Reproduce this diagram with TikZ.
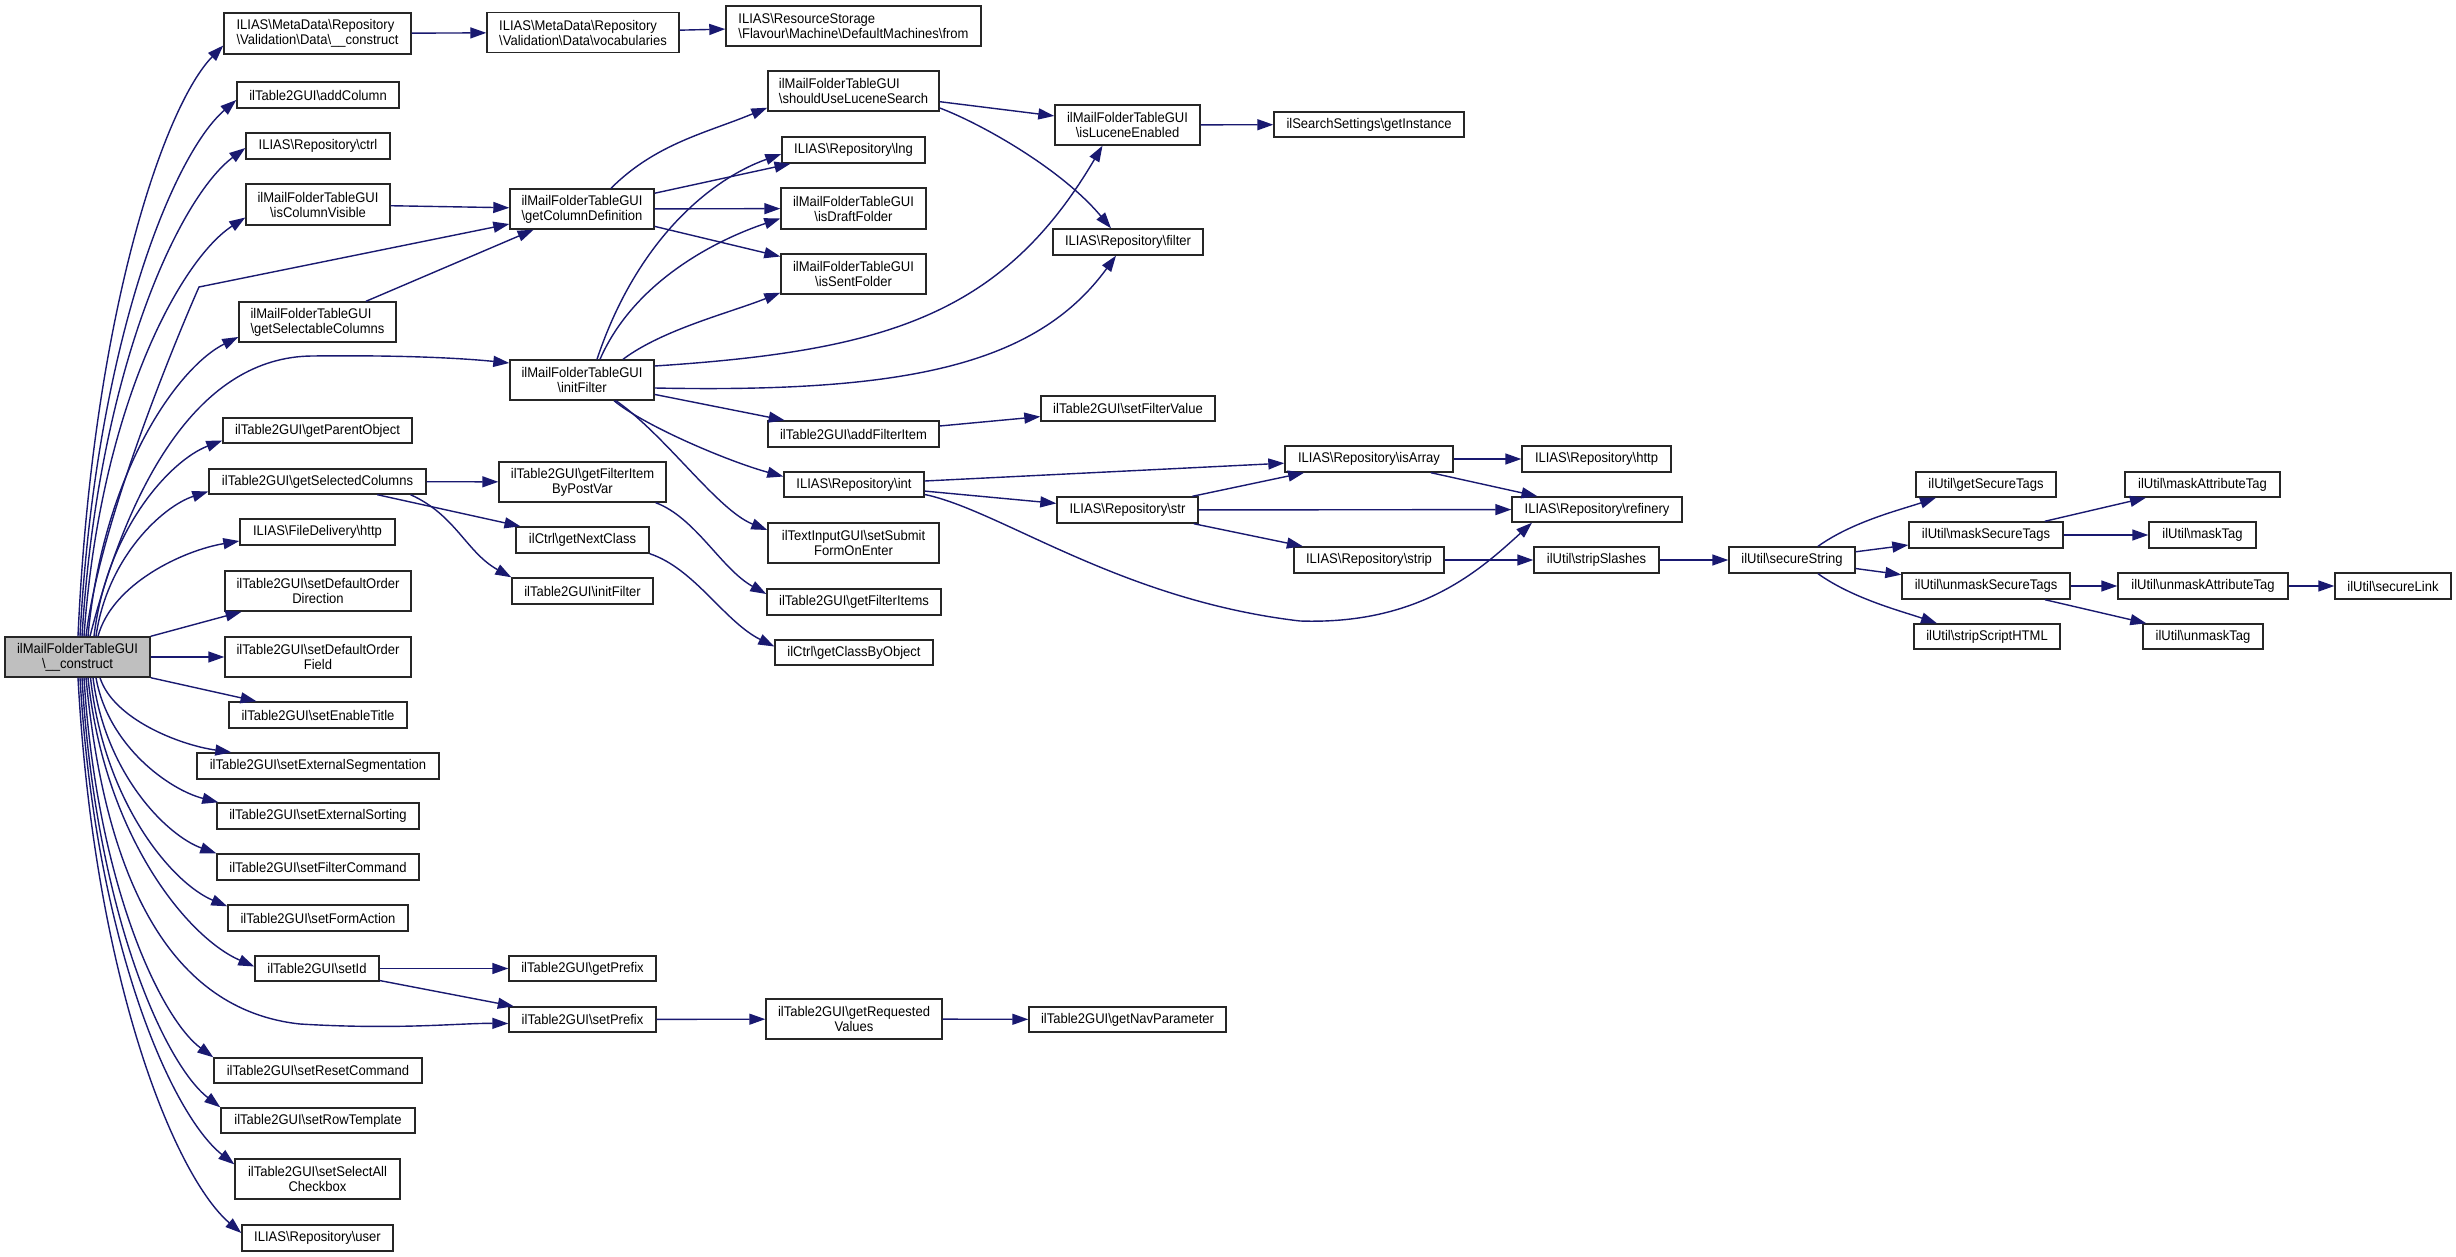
\documentclass[tikz,border=0pt]{standalone}
\usepackage{fontspec}
\setmainfont{Liberation Sans}[FakeStretch=0.93]
\usetikzlibrary{arrows.meta,calc}
\newcommand{\bksl}{\textbackslash}
\definecolor{edgec}{HTML}{191970}
\definecolor{rootc}{HTML}{BFBFBF}
\begin{document}
\begin{tikzpicture}[x=1pt,y=-1pt,
  box/.style={draw=black!85, line width=1.4pt, fill=white, inner sep=1pt, align=center, font=\fontsize{14}{15}\selectfont},
  edge/.style={draw=edgec, line width=1.4pt, -{Triangle[length=16pt,width=11pt]}},
  fan/.style={to path={let \p1=(\tikztostart), \p2=(\tikztotarget) in
     .. controls ({\x1+0.1*(\x2-\x1)},{\y1+0.55*(\y2-\y1)}) and ({\x1+0.6*(\x2-\x1)},{\y2+0.1*(\y1-\y2)}) .. (\tikztotarget) \tikztonodes}}
]
\useasboundingbox (0,0) rectangle (2456,1257);
\fill[white] (0,0) rectangle (2456,1257);

% root
\node[box,minimum width=145pt,minimum height=40pt,fill=rootc] (root) at (77.5,657) {ilMailFolderTableGUI\\\bksl\_\_construct};

% column 2
\node[box,minimum width=187pt,minimum height=41pt,align=left] (mdc) at (317.5,33.5) {ILIAS\bksl MetaData\bksl Repository\\\bksl Validation\bksl Data\bksl\_\_construct};
\node[box,minimum width=162pt,minimum height=26pt] (addc) at (318,95) {ilTable2GUI\bksl addColumn};
\node[box,minimum width=144pt,minimum height=26pt] (ctrl) at (318,146) {ILIAS\bksl Repository\bksl ctrl};
\node[box,minimum width=144pt,minimum height=41pt] (icv) at (318,204.5) {ilMailFolderTableGUI\\\bksl isColumnVisible};
\node[box,minimum width=157pt,minimum height=40pt,align=left] (gsc) at (317.5,322) {ilMailFolderTableGUI\\\bksl getSelectableColumns};
\node[box,minimum width=189pt,minimum height=25pt] (gpo) at (317.5,430.5) {ilTable2GUI\bksl getParentObject};
\node[box,minimum width=217pt,minimum height=25pt] (gselc) at (317.5,481.5) {ilTable2GUI\bksl getSelectedColumns};
\node[box,minimum width=155pt,minimum height=26pt] (fdh) at (317.5,532) {ILIAS\bksl FileDelivery\bksl http};
\node[box,minimum width=186pt,minimum height=40pt] (sdod) at (318,591) {ilTable2GUI\bksl setDefaultOrder\\Direction};
\node[box,minimum width=186pt,minimum height=40pt] (sdof) at (318,657) {ilTable2GUI\bksl setDefaultOrder\\Field};
\node[box,minimum width=178pt,minimum height=26pt] (set) at (318,715) {ilTable2GUI\bksl setEnableTitle};
\node[box,minimum width=242pt,minimum height=26pt] (sese) at (318,766) {ilTable2GUI\bksl setExternalSegmentation};
\node[box,minimum width=202pt,minimum height=26pt] (seso) at (318,816) {ilTable2GUI\bksl setExternalSorting};
\node[box,minimum width=202pt,minimum height=26pt] (sfc) at (318,867) {ilTable2GUI\bksl setFilterCommand};
\node[box,minimum width=180pt,minimum height=26pt] (sfa) at (318,918) {ilTable2GUI\bksl setFormAction};
\node[box,minimum width=124pt,minimum height=25pt] (sid) at (317,968.5) {ilTable2GUI\bksl setId};
\node[box,minimum width=208pt,minimum height=25pt] (src) at (318,1070.5) {ilTable2GUI\bksl setResetCommand};
\node[box,minimum width=194pt,minimum height=25pt] (srt) at (318,1120.5) {ilTable2GUI\bksl setRowTemplate};
\node[box,minimum width=165pt,minimum height=40pt] (ssac) at (317.5,1179) {ilTable2GUI\bksl setSelectAll\\Checkbox};
\node[box,minimum width=151pt,minimum height=26pt] (user) at (317.5,1238) {ILIAS\bksl Repository\bksl user};

% column 3
\node[box,minimum width=192pt,minimum height=40pt,align=left] (vocab) at (583,32.5) {ILIAS\bksl MetaData\bksl Repository\\\bksl Validation\bksl Data\bksl vocabularies};
\node[box,minimum width=144pt,minimum height=40pt] (gcd) at (582,209) {ilMailFolderTableGUI\\\bksl getColumnDefinition};
\node[box,minimum width=144pt,minimum height=40pt] (ifm) at (582,380) {ilMailFolderTableGUI\\\bksl initFilter};
\node[box,minimum width=167pt,minimum height=40pt] (gfib) at (582.5,482) {ilTable2GUI\bksl getFilterItem\\ByPostVar};
\node[box,minimum width=133pt,minimum height=26pt] (gnc) at (582.5,540) {ilCtrl\bksl getNextClass};
\node[box,minimum width=141pt,minimum height=26pt] (ift) at (582.5,591) {ilTable2GUI\bksl initFilter};
\node[box,minimum width=147pt,minimum height=25pt] (gpre) at (582.5,968.5) {ilTable2GUI\bksl getPrefix};
\node[box,minimum width=147pt,minimum height=25pt] (spre) at (582.5,1019.5) {ilTable2GUI\bksl setPrefix};

% column 4
\node[box,minimum width=255pt,minimum height=40pt,align=left] (from) at (853.5,26) {ILIAS\bksl ResourceStorage\\\bksl Flavour\bksl Machine\bksl DefaultMachines\bksl from};
\node[box,minimum width=171pt,minimum height=40pt,align=left] (suls) at (853.5,91) {ilMailFolderTableGUI\\\bksl shouldUseLuceneSearch};
\node[box,minimum width=143pt,minimum height=26pt] (lng) at (853.5,150) {ILIAS\bksl Repository\bksl lng};
\node[box,minimum width=145pt,minimum height=41pt] (idf) at (853.5,208.5) {ilMailFolderTableGUI\\\bksl isDraftFolder};
\node[box,minimum width=145pt,minimum height=40pt] (isf) at (853.5,274) {ilMailFolderTableGUI\\\bksl isSentFolder};
\node[box,minimum width=171pt,minimum height=26pt] (afi) at (853.5,434) {ilTable2GUI\bksl addFilterItem};
\node[box,minimum width=140pt,minimum height=25pt] (int) at (854,484.5) {ILIAS\bksl Repository\bksl int};
\node[box,minimum width=171pt,minimum height=40pt] (ssfe) at (853.5,543) {ilTextInputGUI\bksl setSubmit\\FormOnEnter};
\node[box,minimum width=174pt,minimum height=26pt] (gfi) at (854,602) {ilTable2GUI\bksl getFilterItems};
\node[box,minimum width=158pt,minimum height=25pt] (gcbo) at (854,652.5) {ilCtrl\bksl getClassByObject};
\node[box,minimum width=176pt,minimum height=40pt] (grv) at (854,1019) {ilTable2GUI\bksl getRequested\\Values};

% column 5
\node[box,minimum width=145pt,minimum height=40pt] (ile) at (1127.5,125) {ilMailFolderTableGUI\\\bksl isLuceneEnabled};
\node[box,minimum width=150pt,minimum height=26pt] (filt) at (1128,242) {ILIAS\bksl Repository\bksl filter};
\node[box,minimum width=174pt,minimum height=25pt] (sfv) at (1128,408.5) {ilTable2GUI\bksl setFilterValue};
\node[box,minimum width=141pt,minimum height=26pt] (str) at (1127.5,510) {ILIAS\bksl Repository\bksl str};
\node[box,minimum width=197pt,minimum height=25pt] (gnp) at (1127.5,1019.5) {ilTable2GUI\bksl getNavParameter};

% column 6
\node[box,minimum width=190pt,minimum height=25pt] (gin) at (1369,124.5) {ilSearchSettings\bksl getInstance};
\node[box,minimum width=168pt,minimum height=26pt] (isa) at (1369,459) {ILIAS\bksl Repository\bksl isArray};
\node[box,minimum width=150pt,minimum height=26pt] (strip) at (1369,560) {ILIAS\bksl Repository\bksl strip};

% column 7
\node[box,minimum width=149pt,minimum height=26pt] (rhttp) at (1596.5,459) {ILIAS\bksl Repository\bksl http};
\node[box,minimum width=170pt,minimum height=25pt] (ref) at (1597,509.5) {ILIAS\bksl Repository\bksl refinery};
\node[box,minimum width=125pt,minimum height=26pt] (ssl) at (1596.5,560) {ilUtil\bksl stripSlashes};

% columns 8-11
\node[box,minimum width=126pt,minimum height=26pt] (sst) at (1792,560) {ilUtil\bksl secureString};
\node[box,minimum width=140pt,minimum height=25pt] (gst) at (1986,484.5) {ilUtil\bksl getSecureTags};
\node[box,minimum width=154pt,minimum height=26pt] (mst) at (1986,535) {ilUtil\bksl maskSecureTags};
\node[box,minimum width=168pt,minimum height=26pt] (ust) at (1986,586) {ilUtil\bksl unmaskSecureTags};
\node[box,minimum width=146pt,minimum height=25pt] (ssh) at (1987,636.5) {ilUtil\bksl stripScriptHTML};
\node[box,minimum width=155pt,minimum height=25pt] (mat) at (2202.5,484.5) {ilUtil\bksl maskAttributeTag};
\node[box,minimum width=107pt,minimum height=26pt] (mtag) at (2202.5,535) {ilUtil\bksl maskTag};
\node[box,minimum width=170pt,minimum height=26pt] (uat) at (2203,586) {ilUtil\bksl unmaskAttributeTag};
\node[box,minimum width=120pt,minimum height=25pt] (utag) at (2203,636.5) {ilUtil\bksl unmaskTag};
\node[box,minimum width=116pt,minimum height=26pt] (slink) at (2393,586) {ilUtil\bksl secureLink};

% fan coordinates from root
\coordinate (s1) at ([xshift=0.5pt]root.north);   \coordinate (e1) at ([yshift=-12pt]mdc.west);
\coordinate (s2) at ([xshift=2.5pt]root.north);   \coordinate (e2) at ([yshift=-5pt]addc.west);
\coordinate (s3) at ([xshift=4.5pt]root.north);   \coordinate (e3) at ([yshift=-2pt]ctrl.west);
\coordinate (s4) at ([xshift=6.5pt]root.north);   \coordinate (e4) at ([yshift=-13pt]icv.west);
\coordinate (s6) at ([xshift=10.5pt]root.north);  \coordinate (e6) at ([yshift=-15pt]gsc.west);
\coordinate (s8) at ([xshift=16.5pt]root.north);  \coordinate (e8) at ([yshift=-10pt]gpo.west);
\coordinate (s9) at ([xshift=18.5pt]root.north);  \coordinate (e9) at ([yshift=-10pt]gselc.west);
\coordinate (s10) at ([xshift=20.5pt]root.north); \coordinate (e10) at ([yshift=-9pt]fdh.west);
\coordinate (s14) at ([xshift=22.5pt]root.south); \coordinate (e14) at ([xshift=35pt]sese.north west);
\coordinate (s15) at ([xshift=18.5pt]root.south); \coordinate (e15) at ([xshift=2pt]seso.north west);
\coordinate (s16) at ([xshift=15.5pt]root.south); \coordinate (e16) at (sfc.north west);
\coordinate (s17) at ([xshift=13pt]root.south);   \coordinate (e17) at ([yshift=-2pt]sfa.north west);
\coordinate (s18) at ([xshift=10.5pt]root.south); \coordinate (e18) at ([yshift=2pt]sid.west);
\coordinate (s20) at ([xshift=6.5pt]root.south);  \coordinate (e20) at (src.north west);
\coordinate (s21) at ([xshift=4.5pt]root.south);  \coordinate (e21) at (srt.north west);
\coordinate (s22) at ([xshift=2.5pt]root.south);  \coordinate (e22) at ([yshift=-6pt]ssac.north west);
\coordinate (s23) at ([xshift=0.5pt]root.south);  \coordinate (e23) at ([yshift=5pt]user.west);

\foreach \k in {1,2,3,4,6,8,9,10,14,15,16,17,18,20,21,22,23}
  \draw[edge] (s\k) to[fan] (e\k);

% special root edges
\draw[edge] ([xshift=8.5pt]root.north) .. controls (100,520) and (180,330) .. (199,287) -- ([yshift=-15pt]gcd.west);
\draw[edge] ([xshift=12.5pt]root.north) .. controls (130,480) and (200,357) .. (312,356) .. controls (400,355) and (460,358) .. ([yshift=17pt]ifm.west);
\draw[edge] ([xshift=8.5pt]root.south) .. controls (105,880) and (170,1010) .. (300,1024) .. controls (400,1030) and (460,1023) .. ([yshift=-4pt]spre.west);
\draw[edge] (root.north east) -- (sdod);
\draw[edge] (root) -- (sdof);
\draw[edge] (root.south east) -- (set);

% straight edges
\foreach \a/\b in {mdc/vocab, vocab/from, icv/gcd, gsc/gcd, gcd/lng, gcd/idf, gcd/isf, suls/ile, ile/gin,
  ifm/afi, afi/sfv, int/isa, int/str, str/isa, str/ref, str/strip, isa/rhttp, isa/ref, strip/ssl, ssl/sst,
  sst/mst, sst/ust, mst/mat, mst/mtag, ust/uat, ust/utag, uat/slink, gselc/gfib, gselc/gnc,
  sid/gpre, sid/spre, spre/grv, grv/gnp}
  \draw[edge] (\a) -- (\b);

% curved edges
\draw[edge] ([xshift=29pt]gcd.north) .. controls +(45,-45) and +(-60,25) .. ([yshift=4pt]suls.south west);
\draw[edge] ([xshift=15pt]ifm.north) .. controls +(40,-120) and +(-70,25) .. ([yshift=-4pt]lng.west);
\draw[edge] ([xshift=18pt]ifm.north) .. controls +(35,-80) and +(-60,20) .. ([yshift=-10pt]idf.west);
\draw[edge] ([xshift=41pt]ifm.north) .. controls +(40,-30) and +(-50,20) .. ([yshift=2pt]isf.south west);
\draw[edge] ([yshift=14pt]ifm.east) .. controls +(230,-15) and +(-100,170) .. ([xshift=-25pt]ile.south);
\draw[edge] ([yshift=-8pt]ifm.east) .. controls +(250,5) and +(-80,110) .. ([xshift=-12pt]filt.south);
\draw[edge] ([xshift=32pt]ifm.south) .. controls +(30,25) and +(-55,-15) .. ([yshift=8pt]int.west);
\draw[edge] ([xshift=34pt]ifm.south) .. controls +(50,35) and +(-50,-20) .. ([yshift=13pt]ssfe.west);
\draw[edge] ([yshift=-17pt]suls.east) .. controls +(40,15) and +(-50,-60) .. ([xshift=-17pt]filt.north);
\draw[edge] ([yshift=-10pt]int.east) .. controls (1000,510) and (1120,600) .. (1300,621) .. controls (1420,625) and (1480,570) .. ([xshift=-65pt]ref.south);
\draw[edge] ([xshift=26pt]sst.north) .. controls +(35,-25) and +(-35,12) .. ([xshift=-50pt]gst.south);
\draw[edge] ([xshift=26pt]sst.south) .. controls +(35,25) and +(-35,-12) .. ([xshift=-50pt]ssh.north);
\draw[edge] ([xshift=93pt]gselc.south) .. controls +(45,20) and +(-45,-25) .. (ift.north west);
\draw[edge] ([xshift=-11pt]gfib.south east) .. controls +(40,15) and +(-45,-25) .. ([yshift=8pt]gfi.west);
\draw[edge] (gnc.south east) .. controls +(45,15) and +(-50,-25) .. ([yshift=6pt]gcbo.west);
\end{tikzpicture}
\end{document}
